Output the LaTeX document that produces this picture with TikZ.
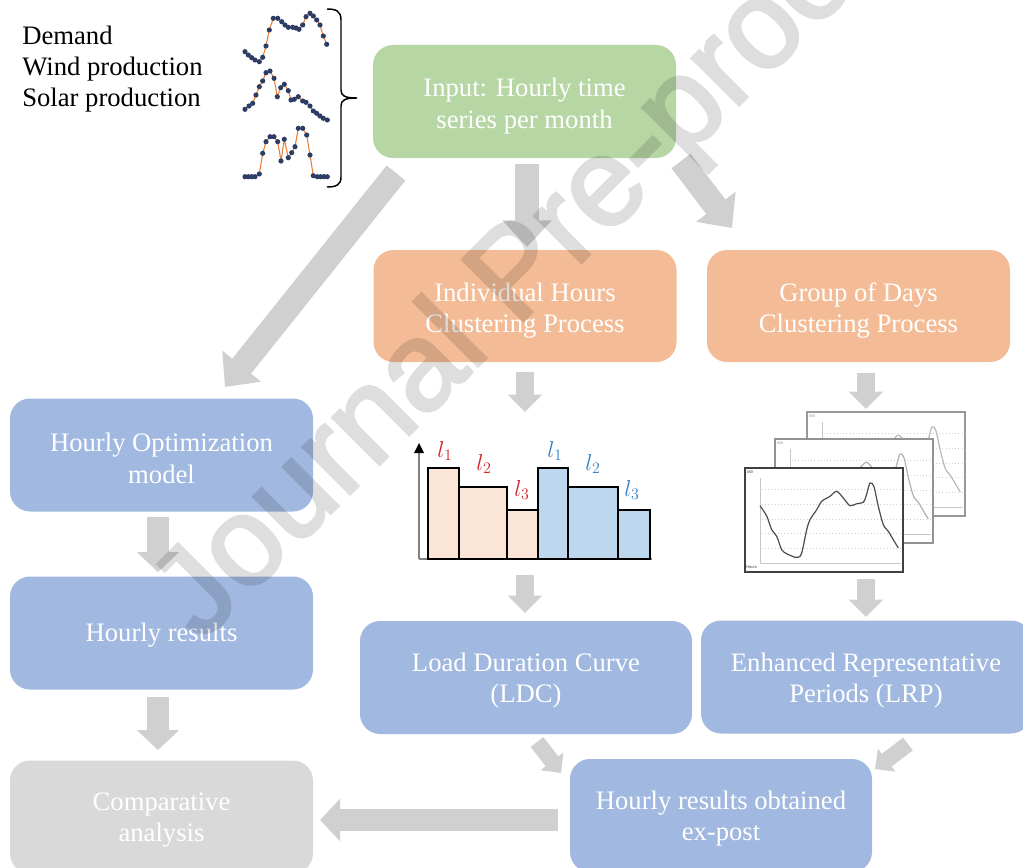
\documentclass[tikz,border=0pt]{standalone}
\usepackage{fontspec}
\setmainfont{Liberation Serif}
\newfontfamily\wmfont[FakeBold=2.5]{Liberation Sans}
\newfontfamily\tinyfont{Liberation Sans}
\usetikzlibrary{arrows.meta}
\definecolor{boxgreen}{RGB}{182,214,164}
\definecolor{boxorange}{RGB}{244,188,150}
\definecolor{boxblue}{RGB}{161,184,224}
\definecolor{boxgray}{RGB}{217,217,217}
\definecolor{arrowgray}{RGB}{208,208,208}
\definecolor{dotnavy}{RGB}{44,60,100}
\definecolor{lineorange}{RGB}{237,125,49}
\definecolor{barorange}{RGB}{251,229,214}
\definecolor{barblue}{RGB}{189,215,238}
\definecolor{lred}{RGB}{210,35,40}
\definecolor{lblue}{RGB}{50,130,200}
\tikzset{
  box/.style={rounded corners=15pt, inner sep=0pt,
    minimum width=227.25pt, minimum height=84.75pt},
  boxtext/.style={text=white, align=center, inner sep=0pt, font=\fontsize{20}{23.5}\selectfont},
  bigarrow/.style={draw=arrowgray, line width=18pt, -{Triangle[length=20pt,width=36pt]}},
  midarrow/.style={draw=arrowgray, line width=16pt, -{Triangle[length=15pt,width=31pt]}},
  smallarrow/.style={draw=arrowgray, line width=13pt, -{Triangle[length=13pt,width=25pt]}},
  tinyarrow/.style={draw=arrowgray, line width=12pt, -{Triangle[length=11pt,width=21pt]}},
  series/.style={lineorange, line width=0.8pt, mark=*, mark size=1.5pt,
    mark options={draw=dotnavy, fill=dotnavy}},
  lab/.style={anchor=base west, inner sep=0pt, font=\fontsize{20}{22.5}\selectfont},
  bar/.style={draw=black, line width=1.5pt},
  llab/.style={inner sep=0pt, font=\fontsize{18}{18}\selectfont},
  tinytext/.style={inner sep=0pt, font=\tinyfont\fontsize{3}{3}\selectfont}
}
\newcommand\mychart[4]{%
  \begin{scope}[shift={(#1,#2)}]
    \fill[white] (0,0) rectangle (158,104);
    \draw[gray!45, line width=0.5pt] (15,10) -- (15,95);
    \draw[gray!45, line width=0.5pt] (15,95) -- (156,95);
    \foreach \g in {21.7,36.7,51,65.7,80}
      \draw[gray!35, dotted, line width=0.4pt] (17,\g) -- (155,\g);
    \node[tinytext, anchor=north west, text=#4] at (2,2) {kW};
    \node[tinytext, anchor=west, text=#4] at (1,99) {Hours};
    \draw[#3, line width=0.9pt] plot[smooth] coordinates {
      (15,37.7) (21.7,48) (26.7,61.7) (31.7,68.3) (36.7,81.7) (41.7,85.7)
      (50,89.3) (53.3,89.3) (56.7,85) (61.7,61.7) (65,51.7) (71.7,41.7)
      (76.7,33.3) (85,28.3) (91.7,23.3) (98.3,30) (105,37.7) (111.7,35.7)
      (118.3,34.3) (121,28.3) (125,15) (129,19) (133.3,38.3) (138.3,56.7)
      (143.3,63.3) (148.3,71.7) (153.3,80)};
    \draw[#4, line width=1.1pt] (0,0) rectangle (158,104);
  \end{scope}}
\begin{document}
\begin{tikzpicture}[x=0.75pt,y=-0.75pt]
\path[use as bounding box] (0,0) rectangle (1023,867);
\clip (0,0) rectangle (1023,867);

% labels
\node[lab] (labd) at (22,44.3) {Demand};
\node[lab] (labw) at (22,75) {Wind production};
\node[lab] (labs) at (22,106) {Solar production};

% time series icons
\draw[series] plot coordinates {(245,51.7) (248.3,55) (251.7,57.7) (255,60) (259.3,61.7) (262.7,57.3) (266,46) (269.3,30) (273.3,18.3) (277.7,18.3) (281.7,21.7) (285,25) (288.3,27.3) (292.7,27.3) (296,28) (299,29.3) (302.7,25) (306,16.7) (310,13.3) (313.3,16) (316.7,20) (320,25) (323.3,36) (326.7,44.3)};
\draw[series] plot coordinates {(245,109.3) (249,106) (252.7,103.3) (256,95) (259.3,86.7) (262.7,81) (266,72.7) (270,71) (274,78.3) (277.3,96.7) (280.7,87.7) (284.3,84.3) (288.3,90.7) (291,100) (294.3,99.3) (298.3,96.7) (302.7,101) (306,102.3) (310,106) (313.3,111) (316.7,113.3) (320,116) (323.3,118.3) (327.3,120)};
\draw[series] plot coordinates {(245,176.7) (248.3,176.7) (251.7,176.7) (255,176.7) (259.3,174) (262.7,153.3) (266,141.7) (270,136.7) (274,136.7) (277.7,141.7) (281,161) (284.3,139.3) (288.3,157.7) (291.7,152.7) (295,146.7) (298.3,128.3) (302.7,128.3) (306.7,135) (310,155) (313.3,175.7) (317.3,176.7) (320.7,176.7) (324,176.7) (327.3,176.7)};

% brace
\draw[black, line width=1.1pt] (327,9) .. controls (336,9) and (341,11) .. (341,20) -- (341,90)
  .. controls (341,96) and (345,98) .. (357,98) .. controls (345,98) and (341,100) .. (341,106)
  -- (341,177) .. controls (341,185) and (336,187) .. (327,187);

% boxes
\node[box, fill=boxgreen] (inp) at (524.5,101.5) {};
\node[box, fill=boxorange, minimum height=84pt] (ihc) at (525,306) {};
\node[box, fill=boxorange, minimum height=84pt] (gdc) at (858.5,306) {};
\node[box, fill=boxblue] (hom) at (161.5,455) {};
\node[box, fill=boxblue] (hr) at (161.5,633) {};
\node[box, fill=boxblue, minimum width=249pt] (ldc) at (526,677.5) {};
\node[box, fill=boxblue, minimum width=247.5pt] (erp) at (866,677) {};
\node[box, fill=boxgray] (cmp) at (161.5,817) {};
\node[box, fill=boxblue, minimum width=226.5pt] (xp) at (721,815.5) {};

\node[boxtext] (inpt) at ([yshift=-3.5pt]inp.center) {Input: Hourly time\\series per month};
\node[boxtext] (ihct) at ([yshift=-3.5pt]ihc.center) {Individual Hours\\Clustering Process};
\node[boxtext] (gdct) at ([yshift=-3.5pt]gdc.center) {Group of Days\\Clustering Process};
\node[boxtext] (homt) at ([yshift=-2.5pt]hom.center) {Hourly Optimization\\model};
\node[boxtext] (hrt) at ([yshift=-1.5pt]hr.center) {Hourly results};
\node[boxtext] (ldct) at ([yshift=-2.5pt]ldc.center) {Load Duration Curve\\(LDC)};
\node[boxtext] (erpt) at ([yshift=-2.5pt]erp.center) {Enhanced Representative\\Periods (LRP)};
\node[boxtext] (cmpt) at ([yshift=-2.5pt]cmp.center) {Comparative\\analysis};
\node[boxtext] (xpt) at ([yshift=-2.5pt]xp.center) {Hourly results obtained\\ex-post};

% arrow end points
\coordinate (a1s) at (396,173); \coordinate (a1e) at (225,387);
\coordinate (a2s) at (527,164); \coordinate (a2e) at (527,247);
\coordinate (a3s) at (681,161); \coordinate (a3e) at (732,228);
\coordinate (a4s) at (525,372); \coordinate (a4e) at (525,412);
\coordinate (a5s) at (866,373); \coordinate (a5e) at (866,409);
\coordinate (a6s) at (158,517); \coordinate (a6e) at (158,572);
\coordinate (a7s) at (525,575); \coordinate (a7e) at (525,613);
\coordinate (a8s) at (866,579); \coordinate (a8e) at (866,617);
\coordinate (a9s) at (158,697); \coordinate (a9e) at (158,750);
\coordinate (a10s) at (537,742); \coordinate (a10e) at (561,773);
\coordinate (a11s) at (908,744); \coordinate (a11e) at (875,769);
\coordinate (a12s) at (558,820); \coordinate (a12e) at (320,820);

\draw[bigarrow] (a1s) -- (a1e);
\draw[bigarrow] (a2s) -- (a2e);
\draw[bigarrow] (a3s) -- (a3e);
\draw[smallarrow] (a4s) -- (a4e);
\draw[smallarrow] (a5s) -- (a5e);
\draw[midarrow] (a6s) -- (a6e);
\draw[smallarrow] (a7s) -- (a7e);
\draw[smallarrow] (a8s) -- (a8e);
\draw[midarrow] (a9s) -- (a9e);
\draw[tinyarrow] (a10s) -- (a10e);
\draw[tinyarrow] (a11s) -- (a11e);
\draw[midarrow] (a12s) -- (a12e);

% histogram
\draw[gray, line width=0.8pt] (419,559) -- (652,559);
\draw[gray, line width=0.8pt] (419,559) -- (419,452);
\fill[black] (414,453) -- (424,453) -- (419,443) -- cycle;
\draw[bar, fill=barorange] (428,559) rectangle (459,468);
\draw[bar, fill=barorange] (459,559) rectangle (507,487);
\draw[bar, fill=barorange] (507,559) rectangle (538,510);
\draw[bar, fill=barblue] (538,559) rectangle (568,468);
\draw[bar, fill=barblue] (568,559) rectangle (618,487);
\draw[bar, fill=barblue] (618,559) rectangle (650,510);
\node[llab, text=lred] (r1) at (445,451) {$l_1$};
\node[llab, text=lred] (r2) at (484,464) {$l_2$};
\node[llab, text=lred] (r3) at (522,490) {$l_3$};
\node[llab, text=lblue] (b1) at (555,451) {$l_1$};
\node[llab, text=lblue] (b2) at (593,464) {$l_2$};
\node[llab, text=lblue] (b3) at (632,490) {$l_3$};

% stacked charts
\mychart{807}{412}{gray!55}{gray!80}
\mychart{775}{439}{gray!60}{gray!85}
\mychart{745}{468}{black!70}{black!75}

% watermark
\begin{scope}[transparency group, opacity=0.13]
\node[font=\wmfont\fontsize{94}{94}\selectfont, text=black,
  rotate=45, anchor=base west, inner sep=0pt] (wm) at (201,643) {Journal Pre-proof};
\end{scope}
\end{tikzpicture}
\end{document}
